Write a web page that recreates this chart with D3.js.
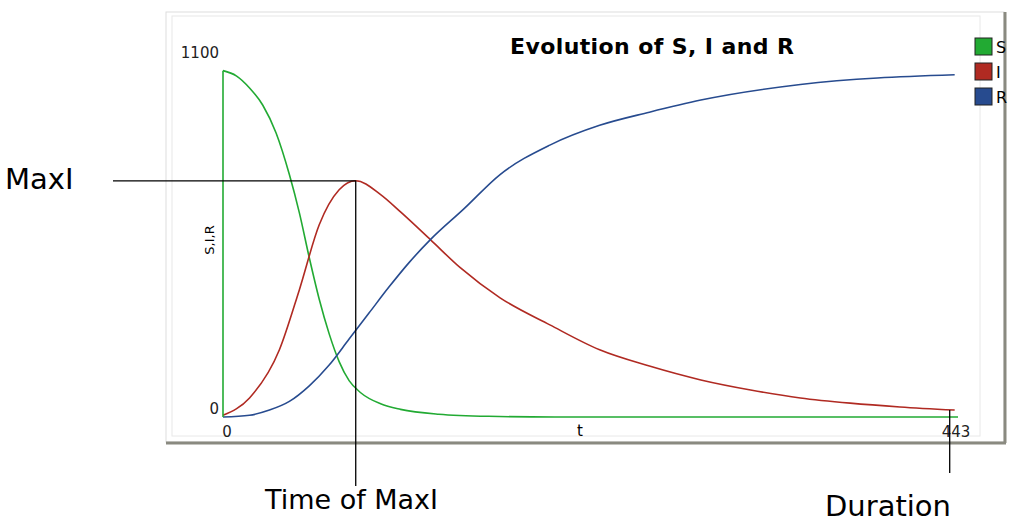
<!DOCTYPE html><html><head><meta charset="utf-8"><script src="https://cdn.jsdelivr.net/npm/d3@7"></script>
<style>body{margin:0;background:#fff}text{font-family:"DejaVu Sans",sans-serif}</style></head><body>
<svg id="c" width="1024" height="524"></svg>
<script>
const tS=[0,8,16,24,32,40,46,52,58,64,70,76,83,95,107,130,160,200,300,443];
const vS=[1000,985,950,900,820,700,590,460,340,240,160,105,70,38,22,8,2,0,0,0];
const tI=[0,16,34,46,58,70,80,95,107,125,143,167,197,227,257,288,318,348,378,408,441];
const vI=[5,55,194,367,555,656,682,642,592,512,431,344,266,194,147,107,78,55,40,29,20];
const tR=[0,16,28,40,52,64,76,88,100,112,125,145,167,197,227,257,288,348,441];
const vR=[0,5,20,45,90,150,225,300,375,445,512,600,700,785,842,880,915,960,988];
const series=[{name:"S",t:tS,v:vS,color:"#22aa33"},{name:"I",t:tI,v:vI,color:"#b02a22"},{name:"R",t:tR,v:vR,color:"#274b8f"}];
const xTicks=[0,443], yTicks=[0,1100];
const svg=d3.select("#c");
svg.append("rect").attr("x",166).attr("y",12).attr("width",838).attr("height",430).attr("fill","#fff").attr("stroke","#ddd");
svg.append("line").attr("x1",166).attr("x2",1006).attr("y1",443).attr("y2",443).attr("stroke","#8a8a80").attr("stroke-width",3);
svg.append("line").attr("x1",1005).attr("x2",1005).attr("y1",12).attr("y2",443).attr("stroke","#8a8a80").attr("stroke-width",3);
svg.append("rect").attr("x",172).attr("y",16).attr("width",808).attr("height",420).attr("fill","none").attr("stroke","#e8e8e8");
const x=d3.scaleLinear().domain([0,443]).range([223,958]);
const y=d3.scaleLinear().domain([0,1100]).range([417,36]);
series.forEach(s=>{
 const pts=s.t.map((t,i)=>[t,s.v[i]]);
 svg.append("path").attr("d",d3.line().x(d=>x(d[0])).y(d=>y(d[1])).curve(d3.curveMonotoneX)(pts))
  .attr("fill","none").attr("stroke",s.color).attr("stroke-width",1.6);
});
svg.append("line").attr("x1",x(0)).attr("x2",x(0)).attr("y1",y(0)).attr("y2",y(1000)).attr("stroke","#22aa33").attr("stroke-width",1.6);
xTicks.forEach(t=>svg.append("text").attr("x",x(t)+(t?-2:4)).attr("y",437).attr("text-anchor","middle").attr("font-size",15).attr("fill","#222").text(t));
yTicks.forEach(t=>svg.append("text").attr("x",219).attr("y",t?58:414).attr("text-anchor","end").attr("font-size",15).attr("fill","#222").text(t));
svg.append("text").attr("x",580).attr("y",436).attr("text-anchor","middle").attr("font-size",15).text("t");
svg.append("text").attr("transform","translate(214,240) rotate(-90)").attr("text-anchor","middle").attr("font-size",13).text("S,I,R");
svg.append("text").attr("x",652).attr("y",54).attr("text-anchor","middle").attr("font-size",22).attr("font-weight",600).attr("textLength",284).text("Evolution of S, I and R");
series.forEach((s,i)=>{
 svg.append("rect").attr("x",975).attr("y",38+i*25).attr("width",17).attr("height",17).attr("fill",s.color).attr("stroke","#222");
 svg.append("text").attr("x",996).attr("y",53+i*25).attr("font-size",16).text(s.name);
});
const tMax=80, iMax=682;
svg.append("line").attr("x1",113).attr("x2",x(tMax)).attr("y1",y(iMax)).attr("y2",y(iMax)).attr("stroke","#000").attr("stroke-width",1.3);
svg.append("line").attr("x1",x(tMax)).attr("x2",x(tMax)).attr("y1",y(iMax)).attr("y2",486).attr("stroke","#000").attr("stroke-width",1.3);
svg.append("line").attr("x1",x(438)).attr("x2",x(438)).attr("y1",y(20)).attr("y2",473).attr("stroke","#000").attr("stroke-width",1.3);
svg.append("text").attr("x",5).attr("y",189).attr("font-size",29).text("MaxI");
svg.append("text").attr("x",265).attr("y",509).attr("font-size",27).text("Time of MaxI");
svg.append("text").attr("x",825).attr("y",516).attr("font-size",29).text("Duration");
</script></body></html>
